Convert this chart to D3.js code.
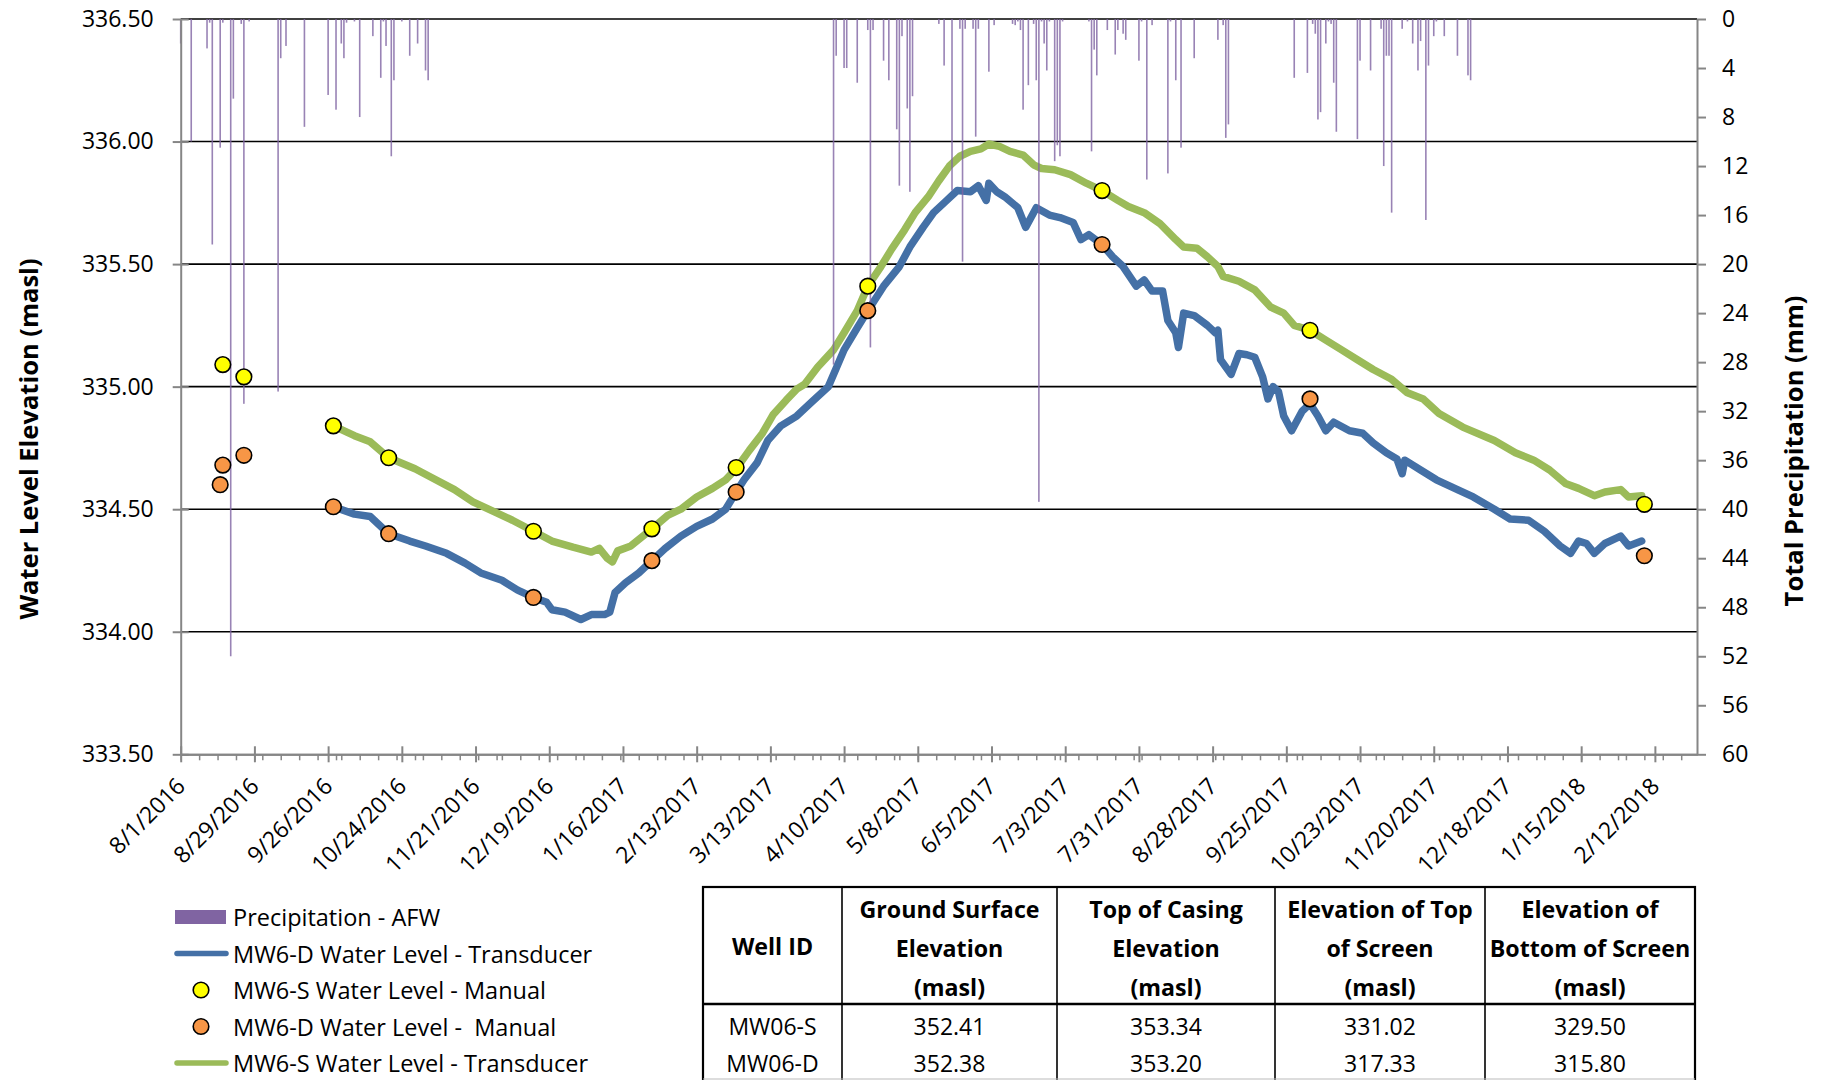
<!DOCTYPE html>
<html>
<head>
<meta charset="utf-8">
<script src="https://cdn.jsdelivr.net/npm/d3@7"></script>
<style>
  body { margin: 0; background: #fff; }
  svg { display: block; font-family: "Open Sans", sans-serif; }
</style>
</head>
<body>
<svg id="chart" width="1826" height="1080"></svg>
<script>
// ---- values ----
const elevationTicks = [333.5, 334.0, 334.5, 335.0, 335.5, 336.0, 336.5]
const precipTicks = [0, 4, 8, 12, 16, 20, 24, 28, 32, 36, 40, 44, 48, 52, 56, 60]
const dateTicks = ["8/1/2016", "8/29/2016", "9/26/2016", "10/24/2016", "11/21/2016", "12/19/2016",
    "1/16/2017", "2/13/2017", "3/13/2017", "4/10/2017", "5/8/2017", "6/5/2017", "7/3/2017",
    "7/31/2017", "8/28/2017", "9/25/2017", "10/23/2017", "11/20/2017", "12/18/2017",
    "1/15/2018", "2/12/2018"]
const dateDomain = ["2016-08-01", "2018-02-28"]

// daily precipitation (mm)
const precipitation = [
    ["2016-08-01", 2.0], ["2016-08-05", 10.0], ["2016-08-11", 2.4], ["2016-08-12", 0.3], ["2016-08-13", 18.4],
    ["2016-08-16", 10.5], ["2016-08-17", 0.3], ["2016-08-20", 52.0], ["2016-08-21", 6.5], ["2016-08-24", 0.4],
    ["2016-08-25", 31.4], ["2016-08-27", 0.2], ["2016-09-07", 30.4], ["2016-09-08", 3.2], ["2016-09-10", 2.2],
    ["2016-09-17", 8.8], ["2016-09-26", 6.2], ["2016-09-29", 7.4], ["2016-10-01", 2.0], ["2016-10-02", 3.2],
    ["2016-10-03", 0.3], ["2016-10-06", 0.2], ["2016-10-08", 8.0], ["2016-10-13", 1.4], ["2016-10-16", 4.8],
    ["2016-10-17", 0.2], ["2016-10-18", 2.2], ["2016-10-20", 11.2], ["2016-10-21", 5.0], ["2016-10-24", 0.2],
    ["2016-10-27", 3.0], ["2016-10-30", 2.0], ["2016-11-02", 4.2], ["2016-11-03", 5.0],
    ["2017-04-06", 28.2], ["2017-04-07", 3.0], ["2017-04-10", 4.0], ["2017-04-11", 4.0], ["2017-04-15", 5.2],
    ["2017-04-19", 0.9], ["2017-04-20", 26.8], ["2017-04-21", 0.9], ["2017-04-25", 3.4], ["2017-04-27", 5.0],
    ["2017-04-30", 9.0], ["2017-05-01", 13.6], ["2017-05-02", 1.4], ["2017-05-04", 7.3], ["2017-05-05", 14.1],
    ["2017-05-06", 6.3], ["2017-05-16", 0.4], ["2017-05-18", 3.8], ["2017-05-21", 14.0], ["2017-05-24", 0.8],
    ["2017-05-25", 19.8], ["2017-05-26", 0.8], ["2017-05-29", 0.8], ["2017-05-30", 9.6], ["2017-05-31", 0.8],
    ["2017-06-04", 4.3], ["2017-06-06", 0.5], ["2017-06-13", 0.4], ["2017-06-14", 0.5], ["2017-06-15", 0.2],
    ["2017-06-16", 0.9], ["2017-06-17", 7.4], ["2017-06-19", 5.4], ["2017-06-21", 0.4], ["2017-06-22", 5.0],
    ["2017-06-23", 39.4], ["2017-06-24", 0.2], ["2017-06-25", 2.0], ["2017-06-26", 4.2], ["2017-06-27", 0.2],
    ["2017-06-29", 11.6], ["2017-06-30", 10.3], ["2017-07-01", 11.2], ["2017-07-02", 0.2], ["2017-07-12", 0.2],
    ["2017-07-13", 10.8], ["2017-07-14", 2.5], ["2017-07-15", 4.6], ["2017-07-19", 0.9], ["2017-07-22", 2.9],
    ["2017-07-23", 0.9], ["2017-07-25", 1.2], ["2017-07-26", 1.7], ["2017-07-31", 3.4], ["2017-08-01", 0.2],
    ["2017-08-03", 13.1], ["2017-08-05", 0.5], ["2017-08-11", 12.6], ["2017-08-12", 0.2], ["2017-08-14", 5.0],
    ["2017-08-16", 10.5], ["2017-08-21", 3.2], ["2017-08-30", 1.7], ["2017-09-01", 0.5], ["2017-09-02", 9.7],
    ["2017-09-03", 8.6],
    ["2017-09-28", 4.8], ["2017-10-03", 4.4], ["2017-10-05", 0.4], ["2017-10-06", 1.2], ["2017-10-07", 8.2],
    ["2017-10-08", 7.6], ["2017-10-10", 2.0], ["2017-10-11", 0.2], ["2017-10-12", 0.4], ["2017-10-13", 5.2],
    ["2017-10-14", 9.2], ["2017-10-22", 9.8], ["2017-10-23", 3.4], ["2017-10-27", 4.2], ["2017-10-31", 0.8],
    ["2017-11-01", 12.0], ["2017-11-02", 3.0], ["2017-11-03", 3.0], ["2017-11-04", 15.8], ["2017-11-08", 0.8],
    ["2017-11-10", 0.2], ["2017-11-12", 2.0], ["2017-11-14", 4.2], ["2017-11-15", 1.8], ["2017-11-17", 16.4],
    ["2017-11-18", 3.8], ["2017-11-20", 1.4], ["2017-11-21", 0.2], ["2017-11-24", 1.4], ["2017-11-29", 3.0],
    ["2017-12-03", 4.6], ["2017-12-04", 5.0]
]

// MW6-D transducer (masl)
const deepTransducer = [
    ["2016-09-28", 334.51], ["2016-10-06", 334.48], ["2016-10-12", 334.47], ["2016-10-19", 334.40], ["2016-10-27", 334.37],
    ["2016-11-02", 334.35], ["2016-11-10", 334.32], ["2016-11-17", 334.28], ["2016-11-23", 334.24], ["2016-12-01", 334.21],
    ["2016-12-07", 334.17], ["2016-12-13", 334.14], ["2016-12-18", 334.12], ["2016-12-20", 334.09], ["2016-12-25", 334.08],
    ["2016-12-31", 334.05], ["2017-01-04", 334.07], ["2017-01-09", 334.07], ["2017-01-11", 334.08], ["2017-01-13", 334.16],
    ["2017-01-17", 334.20], ["2017-01-22", 334.24], ["2017-01-27", 334.29], ["2017-02-01", 334.34], ["2017-02-07", 334.39],
    ["2017-02-13", 334.43], ["2017-02-19", 334.46], ["2017-02-24", 334.50], ["2017-02-28", 334.57], ["2017-03-03", 334.62],
    ["2017-03-08", 334.69], ["2017-03-12", 334.78], ["2017-03-17", 334.84], ["2017-03-23", 334.88], ["2017-03-29", 334.94],
    ["2017-04-04", 335.00], ["2017-04-10", 335.15], ["2017-04-15", 335.24], ["2017-04-19", 335.31], ["2017-04-25", 335.41],
    ["2017-05-01", 335.49], ["2017-05-05", 335.57], ["2017-05-10", 335.65], ["2017-05-14", 335.71], ["2017-05-19", 335.76],
    ["2017-05-23", 335.80], ["2017-05-28", 335.795], ["2017-05-31", 335.82], ["2017-06-03", 335.76], ["2017-06-04", 335.83],
    ["2017-06-07", 335.795], ["2017-06-10", 335.775], ["2017-06-15", 335.73], ["2017-06-18", 335.65], ["2017-06-22", 335.73],
    ["2017-06-27", 335.70], ["2017-07-01", 335.69], ["2017-07-06", 335.67], ["2017-07-09", 335.60], ["2017-07-12", 335.62],
    ["2017-07-17", 335.58], ["2017-07-21", 335.53], ["2017-07-25", 335.49], ["2017-07-30", 335.41], ["2017-08-02", 335.435],
    ["2017-08-05", 335.39], ["2017-08-09", 335.39], ["2017-08-11", 335.27], ["2017-08-14", 335.22], ["2017-08-15", 335.16],
    ["2017-08-17", 335.30], ["2017-08-21", 335.29], ["2017-08-26", 335.25], ["2017-08-29", 335.22], ["2017-08-30", 335.23],
    ["2017-08-31", 335.11], ["2017-09-04", 335.05], ["2017-09-07", 335.135], ["2017-09-10", 335.13], ["2017-09-13", 335.12],
    ["2017-09-16", 335.04], ["2017-09-18", 334.95], ["2017-09-20", 335.00], ["2017-09-22", 334.98], ["2017-09-24", 334.88],
    ["2017-09-27", 334.82], ["2017-10-01", 334.90], ["2017-10-04", 334.93], ["2017-10-07", 334.88], ["2017-10-10", 334.82],
    ["2017-10-13", 334.855], ["2017-10-19", 334.82], ["2017-10-24", 334.81], ["2017-10-28", 334.77], ["2017-11-02", 334.73],
    ["2017-11-06", 334.705], ["2017-11-08", 334.645], ["2017-11-09", 334.70], ["2017-11-15", 334.66], ["2017-11-21", 334.62],
    ["2017-11-29", 334.58], ["2017-12-05", 334.55], ["2017-12-13", 334.50], ["2017-12-19", 334.46], ["2017-12-26", 334.455],
    ["2018-01-01", 334.41], ["2018-01-07", 334.35], ["2018-01-11", 334.32], ["2018-01-14", 334.37], ["2018-01-17", 334.36],
    ["2018-01-20", 334.32], ["2018-01-24", 334.36], ["2018-01-30", 334.39], ["2018-02-02", 334.35], ["2018-02-07", 334.37]
]

// MW6-S transducer (masl)
const shallowTransducer = [
    ["2016-09-28", 334.84], ["2016-10-06", 334.80], ["2016-10-12", 334.775], ["2016-10-19", 334.71], ["2016-10-29", 334.665],
    ["2016-11-05", 334.625], ["2016-11-13", 334.58], ["2016-11-20", 334.53], ["2016-11-28", 334.49], ["2016-12-05", 334.455],
    ["2016-12-13", 334.41], ["2016-12-20", 334.37], ["2016-12-28", 334.345], ["2017-01-04", 334.325], ["2017-01-07", 334.34],
    ["2017-01-10", 334.30], ["2017-01-12", 334.285], ["2017-01-14", 334.33], ["2017-01-19", 334.35], ["2017-01-27", 334.42],
    ["2017-02-02", 334.475], ["2017-02-07", 334.50], ["2017-02-13", 334.55], ["2017-02-19", 334.585], ["2017-02-24", 334.62],
    ["2017-02-28", 334.665], ["2017-03-05", 334.74], ["2017-03-10", 334.81], ["2017-03-14", 334.885], ["2017-03-19", 334.945],
    ["2017-03-23", 334.99], ["2017-03-26", 335.01], ["2017-03-31", 335.08], ["2017-04-06", 335.15], ["2017-04-10", 335.22],
    ["2017-04-15", 335.31], ["2017-04-19", 335.41], ["2017-04-24", 335.49], ["2017-04-28", 335.56], ["2017-05-03", 335.64],
    ["2017-05-07", 335.71], ["2017-05-12", 335.775], ["2017-05-16", 335.84], ["2017-05-20", 335.90], ["2017-05-24", 335.94],
    ["2017-05-28", 335.96], ["2017-06-01", 335.97], ["2017-06-04", 335.99], ["2017-06-08", 335.98], ["2017-06-12", 335.96],
    ["2017-06-17", 335.945], ["2017-06-21", 335.905], ["2017-06-24", 335.89], ["2017-06-29", 335.885], ["2017-07-05", 335.865],
    ["2017-07-11", 335.83], ["2017-07-17", 335.80], ["2017-07-23", 335.76], ["2017-07-27", 335.735], ["2017-08-02", 335.71],
    ["2017-08-08", 335.665], ["2017-08-14", 335.60], ["2017-08-17", 335.57], ["2017-08-22", 335.565], ["2017-08-26", 335.53],
    ["2017-08-30", 335.49], ["2017-09-01", 335.45], ["2017-09-07", 335.43], ["2017-09-13", 335.395], ["2017-09-19", 335.325],
    ["2017-09-24", 335.30], ["2017-09-28", 335.25], ["2017-10-04", 335.23], ["2017-10-10", 335.19], ["2017-10-16", 335.15],
    ["2017-10-22", 335.11], ["2017-10-28", 335.07], ["2017-11-04", 335.03], ["2017-11-10", 334.975], ["2017-11-16", 334.95],
    ["2017-11-22", 334.89], ["2017-12-01", 334.835], ["2017-12-13", 334.78], ["2017-12-21", 334.73], ["2017-12-28", 334.70],
    ["2018-01-03", 334.66], ["2018-01-09", 334.605], ["2018-01-14", 334.585], ["2018-01-20", 334.555], ["2018-01-24", 334.57],
    ["2018-01-30", 334.58], ["2018-02-02", 334.55], ["2018-02-07", 334.555]
]

// manual readings (masl)
const shallowManual = [
    ["2016-08-17", 335.09], ["2016-08-25", 335.04], ["2016-09-28", 334.84], ["2016-10-19", 334.71], ["2016-12-13", 334.41],
    ["2017-01-27", 334.42], ["2017-02-28", 334.67], ["2017-04-19", 335.41], ["2017-07-17", 335.80], ["2017-10-04", 335.23],
    ["2018-02-08", 334.52]
]
const deepManual = [
    ["2016-08-16", 334.60], ["2016-08-17", 334.68], ["2016-08-25", 334.72], ["2016-09-28", 334.51], ["2016-10-19", 334.40],
    ["2016-12-13", 334.14], ["2017-01-27", 334.29], ["2017-02-28", 334.57], ["2017-04-19", 335.31], ["2017-07-17", 335.58],
    ["2017-10-04", 334.95], ["2018-02-08", 334.31]
]

// well construction table
const tableHeader = [
    ["Well ID"],
    ["Ground Surface", "Elevation", "(masl)"],
    ["Top of Casing", "Elevation", "(masl)"],
    ["Elevation of Top", "of Screen", "(masl)"],
    ["Elevation of", "Bottom of Screen", "(masl)"]
]
const tableRows = [
    ["MW06-S", "352.41", "353.34", "331.02", "329.50"],
    ["MW06-D", "352.38", "353.20", "317.33", "315.80"]
]

const legendItems = [
    { label: "Precipitation - AFW", type: "bar" },
    { label: "MW6-D Water Level - Transducer", type: "line", color: "#4470a6" },
    { label: "MW6-S Water Level - Manual", type: "dot", color: "#ffff00" },
    { label: "MW6-D Water Level -  Manual", type: "dot", color: "#f79646" },
    { label: "MW6-S Water Level - Transducer", type: "line", color: "#9bbb59" }
]

// ---- drawing ----
const parseDate = d3.utcParse("%Y-%m-%d")
const parseTick = d3.utcParse("%m/%d/%Y")
const svg = d3.select("#chart")

const plot = { left: 180.7, right: 1697, top: 19, bottom: 754.3 }
const axisGrey = "#868686"
const tickFont = 23

let x = d3.scaleUtc()
    .domain(dateDomain.map(parseDate))
    .range([plot.left, plot.right])
let yLeft = d3.scaleLinear()
    .domain([333.5, 336.5])
    .range([plot.bottom, plot.top])
let yRight = d3.scaleLinear()
    .domain([0, 60])
    .range([plot.top, plot.bottom])

const toPoints = arr => arr.map(d => ({ date: parseDate(d[0]), value: d[1] }))

// horizontal gridlines
svg.append("g").selectAll("line")
    .data(elevationTicks.filter(d => d > 333.5))
    .enter().append("line")
    .attr("x1", plot.left).attr("x2", plot.right)
    .attr("y1", d => yLeft(d)).attr("y2", d => yLeft(d))
    .attr("stroke", "#000").attr("stroke-width", 1.6)

// transducer lines
const line = d3.line().x(d => x(d.date)).y(d => yLeft(d.value))
svg.append("path").datum(toPoints(deepTransducer))
    .attr("d", line).attr("fill", "none")
    .attr("stroke", "#4470a6").attr("stroke-width", 7.5)
    .attr("stroke-linejoin", "round").attr("stroke-linecap", "round")
svg.append("path").datum(toPoints(shallowTransducer))
    .attr("d", line).attr("fill", "none")
    .attr("stroke", "#9bbb59").attr("stroke-width", 7.5)
    .attr("stroke-linejoin", "round").attr("stroke-linecap", "round")

// precipitation bars hanging from the top (secondary axis)
svg.append("g").selectAll("rect")
    .data(toPoints(precipitation))
    .enter().append("rect")
    .attr("x", d => x(d.date) - 0.8)
    .attr("y", yRight(0))
    .attr("width", 1.6)
    .attr("height", d => yRight(d.value) - yRight(0))
    .attr("fill", "#8064a2")
    .attr("opacity", 0.8)

// manual readings
function drawDots(data, color) {
    svg.append("g").selectAll("circle")
        .data(toPoints(data))
        .enter().append("circle")
        .attr("cx", d => x(d.date))
        .attr("cy", d => yLeft(d.value))
        .attr("r", 7.8)
        .attr("fill", color)
        .attr("stroke", "#000")
        .attr("stroke-width", 1.6)
}
drawDots(deepManual, "#f79646")
drawDots(shallowManual, "#ffff00")

// axes
function styleAxis(g) {
    g.select(".domain").attr("stroke", axisGrey).attr("stroke-width", 2)
    g.selectAll(".tick line").attr("stroke", axisGrey).attr("stroke-width", 2)
    g.selectAll(".tick text").attr("fill", "#000")
        .style("font-family", '"Open Sans", sans-serif').style("font-size", tickFont + "px")
}

let leftAxis = svg.append("g")
    .attr("transform", `translate(${plot.left},0)`)
    .call(d3.axisLeft(yLeft).tickValues(elevationTicks).tickFormat(d3.format(".2f"))
        .tickSize(8).tickSizeOuter(0).tickPadding(19))
styleAxis(leftAxis)
leftAxis.selectAll(".tick line").attr("x1", 8)

let rightAxis = svg.append("g")
    .attr("transform", `translate(${plot.right},0)`)
    .call(d3.axisRight(yRight).tickValues(precipTicks)
        .tickSize(9).tickSizeOuter(0).tickPadding(16))
styleAxis(rightAxis)

// minor weekly ticks
const start = parseDate(dateDomain[0])
let minorAxis = svg.append("g")
    .attr("transform", `translate(0,${plot.bottom})`)
    .call(d3.axisBottom(x).tickValues(d3.utcDay.every(7).range(start, parseDate(dateDomain[1])))
        .tickFormat("").tickSize(6).tickSizeOuter(0))
styleAxis(minorAxis)
minorAxis.selectAll(".tick line").attr("stroke-width", 1.5)

let bottomAxis = svg.append("g")
    .attr("transform", `translate(0,${plot.bottom})`)
    .call(d3.axisBottom(x).tickValues(dateTicks.map(parseTick))
        .tickFormat(d3.utcFormat("%-m/%-d/%Y")).tickSize(8).tickSizeOuter(0))
styleAxis(bottomAxis)
bottomAxis.selectAll(".tick line").attr("y1", -8)
bottomAxis.selectAll(".tick text")
    .attr("x", 0).attr("y", 0).attr("dy", null)
    .attr("dominant-baseline", "central")
    .attr("text-anchor", "end")
    .attr("transform", "translate(-1,27) rotate(-45)")

// axis titles
svg.append("text")
    .attr("transform", "translate(28,439) rotate(-90)")
    .attr("text-anchor", "middle").attr("dominant-baseline", "central")
    .style("font-weight", "bold").style("font-size", "25.5px")
    .text("Water Level Elevation (masl)")
svg.append("text")
    .attr("transform", "translate(1793,451) rotate(-90)")
    .attr("text-anchor", "middle").attr("dominant-baseline", "central")
    .style("font-weight", "bold").style("font-size", "25.5px")
    .text("Total Precipitation (mm)")

// legend (last row kept just inside the bottom edge)
let legend = svg.append("g").attr("transform", "translate(175,917)")
legendItems.forEach((item, i) => {
    let row = legend.append("g").attr("transform", `translate(0,${i * 36.5})`)
    if (item.type === "bar") {
        row.append("rect").attr("x", 0).attr("y", -7).attr("width", 51).attr("height", 14).attr("fill", "#8064a2")
    } else if (item.type === "line") {
        row.append("line").attr("x1", 2).attr("x2", 51).attr("y1", 0).attr("y2", 0)
            .attr("stroke", item.color).attr("stroke-width", 5.5).attr("stroke-linecap", "round")
    } else {
        row.append("circle").attr("cx", 26).attr("cy", 0).attr("r", 7.8)
            .attr("fill", item.color).attr("stroke", "#000").attr("stroke-width", 1.6)
    }
    row.append("text")
        .attr("x", 58).attr("y", 0)
        .attr("dominant-baseline", "central")
        .style("font-size", "23.5px").style("white-space", "pre")
        .text(item.label)
})

// table of well details
const colEdges = [703, 842, 1057, 1275, 1485, 1695]
const tableTop = 887, headerBottom = 1004, tableBottom = 1090
let table = svg.append("g")
table.append("rect")
    .attr("x", colEdges[0]).attr("y", tableTop)
    .attr("width", colEdges[5] - colEdges[0]).attr("height", tableBottom - tableTop)
    .attr("fill", "none").attr("stroke", "#000").attr("stroke-width", 2.2)
table.selectAll(".col").data(colEdges.slice(1, 5)).enter()
    .append("line").attr("class", "col")
    .attr("x1", d => d).attr("x2", d => d).attr("y1", tableTop).attr("y2", tableBottom)
    .attr("stroke", "#000").attr("stroke-width", 1.6)
table.append("line")
    .attr("x1", colEdges[0]).attr("x2", colEdges[5]).attr("y1", headerBottom).attr("y2", headerBottom)
    .attr("stroke", "#000").attr("stroke-width", 2.6)
table.append("line")
    .attr("x1", colEdges[0]).attr("x2", colEdges[5]).attr("y1", 1079).attr("y2", 1079)
    .attr("stroke", "#bbb").attr("stroke-width", 1)

tableHeader.forEach((lines, c) => {
    let cx = (colEdges[c] + colEdges[c + 1]) / 2
    let y0 = lines.length === 1 ? 946 : 909
    lines.forEach((t, k) => {
        table.append("text")
            .attr("x", cx).attr("y", y0 + k * 39)
            .attr("text-anchor", "middle").attr("dominant-baseline", "central")
            .style("font-weight", "bold").style("font-size", "23.2px")
            .text(t)
    })
})
tableRows.forEach((row, r) => {
    row.forEach((t, c) => {
        table.append("text")
            .attr("x", (colEdges[c] + colEdges[c + 1]) / 2).attr("y", 1026 + r * 37)
            .attr("text-anchor", "middle").attr("dominant-baseline", "central")
            .style("font-size", "23px")
            .text(t)
    })
})
</script>
</body>
</html>
